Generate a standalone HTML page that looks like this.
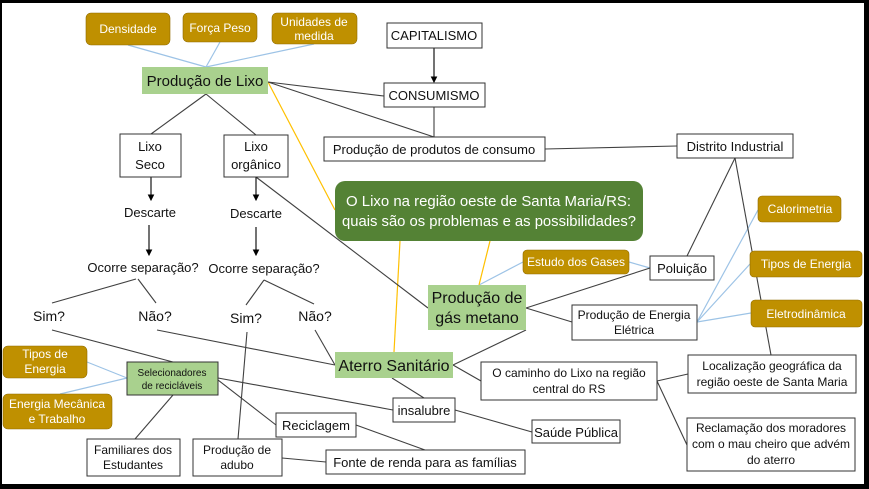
<!DOCTYPE html>
<html><head><meta charset="utf-8"><style>
body{margin:0;width:869px;height:489px;overflow:hidden;background:#000}
svg{display:block}
text{font-family:"Liberation Sans",sans-serif;}
</style></head><body>
<svg width="869" height="489" viewBox="0 0 869 489" xmlns="http://www.w3.org/2000/svg">
<rect x="2" y="3" width="862" height="481" fill="#fff"/>
<defs><marker id="a" markerWidth="6" markerHeight="6" refX="5" refY="3" orient="auto"><path d="M0,0L6,3L0,6z" fill="#000"/></marker></defs>
<g stroke="#9dc3e6" stroke-width="1.2" fill="none">
<line x1="128" y1="45" x2="206" y2="67"/><line x1="220" y1="42" x2="206" y2="67"/><line x1="314" y1="44" x2="206" y2="67"/>
<line x1="576" y1="260" x2="523" y2="262"/><line x1="629" y1="262" x2="650" y2="268"/><line x1="523" y1="262" x2="479" y2="285"/>
<line x1="697" y1="322" x2="758" y2="210"/><line x1="697" y1="322" x2="750" y2="264"/><line x1="697" y1="322" x2="751" y2="313"/>
<line x1="87" y1="362" x2="127" y2="378"/><line x1="60" y1="394" x2="127" y2="378"/>
</g>
<g stroke="#ffc000" stroke-width="1.2" fill="none">
<line x1="268" y1="82" x2="335" y2="210"/><line x1="400" y1="241" x2="394" y2="352"/><line x1="490" y1="241" x2="479" y2="285"/>
</g>
<g stroke="#404040" stroke-width="1.1" fill="none">
<line x1="268" y1="82" x2="384" y2="96"/><line x1="268" y1="82" x2="434" y2="137"/>
<line x1="434" y1="107" x2="434" y2="137"/>
<line x1="545" y1="149" x2="677" y2="146"/>
<line x1="206" y1="94" x2="151" y2="134"/><line x1="206" y1="94" x2="256" y2="135"/>
<line x1="256" y1="177" x2="428" y2="308"/>
<line x1="136" y1="279" x2="52" y2="303"/><line x1="138" y1="279" x2="156" y2="303"/>
<line x1="264" y1="280" x2="246" y2="305"/><line x1="264" y1="280" x2="314" y2="304"/>
<line x1="52" y1="330" x2="173" y2="362"/><line x1="157" y1="330" x2="335" y2="365"/><line x1="315" y1="330" x2="335" y2="365"/>
<line x1="247" y1="332" x2="238" y2="439"/>
<line x1="453" y1="365" x2="526" y2="330"/>
<line x1="526" y1="308" x2="650" y2="268"/><line x1="526" y1="308" x2="572" y2="322"/>
<line x1="735" y1="158" x2="687" y2="256"/><line x1="735" y1="158" x2="771" y2="355"/>
<line x1="453" y1="365" x2="481" y2="381"/>
<line x1="657" y1="381" x2="688" y2="374"/><line x1="657" y1="381" x2="687" y2="445"/>
<line x1="392" y1="378" x2="424" y2="398"/>
<line x1="218" y1="378" x2="393" y2="410"/><line x1="218" y1="380" x2="276" y2="425"/>
<line x1="455" y1="410" x2="532" y2="432"/>
<line x1="356" y1="425" x2="425" y2="450"/>
<line x1="282" y1="458" x2="326" y2="462"/>
<line x1="173" y1="395" x2="135" y2="439"/>
</g>
<g stroke="#000" stroke-width="1.1"><line x1="434" y1="48" x2="434" y2="82" marker-end="url(#a)"/>
<line x1="151" y1="177" x2="151" y2="200" marker-end="url(#a)"/><line x1="256" y1="177" x2="256" y2="200" marker-end="url(#a)"/>
<line x1="149" y1="225" x2="149" y2="255" marker-end="url(#a)"/><line x1="256" y1="227" x2="256" y2="255" marker-end="url(#a)"/></g>
<g fill="#bf9000" stroke="#8f6b00" stroke-width="0.6">
<rect x="86" y="13" width="84" height="32" rx="5"/><rect x="183" y="13" width="74" height="29" rx="5"/><rect x="272" y="13" width="85" height="31" rx="5"/>
<rect x="523" y="250" width="106" height="24" rx="4"/><rect x="758" y="196" width="83" height="26" rx="4"/><rect x="750" y="251" width="112" height="26" rx="4"/><rect x="751" y="300" width="111" height="27" rx="4"/>
<rect x="3" y="346" width="84" height="32" rx="5"/><rect x="3" y="394" width="109" height="35" rx="5"/>
</g>
<g fill="#a9d18e"><rect x="142" y="67" width="126" height="27"/><rect x="428" y="285" width="98" height="45"/><rect x="335" y="352" width="118" height="26"/></g>
<rect x="127" y="362" width="91" height="33" fill="#a9d18e" stroke="#333"/>
<rect x="335" y="181" width="308" height="60" rx="10" fill="#548235"/>
<g fill="#fff" stroke="#333" stroke-width="1">
<rect x="387" y="23" width="95" height="25"/><rect x="384" y="83" width="101" height="24"/><rect x="324" y="137" width="221" height="24"/><rect x="677" y="134" width="116" height="24"/>
<rect x="120" y="134" width="61" height="43"/><rect x="224" y="135" width="64" height="42"/>
<rect x="650" y="256" width="64" height="24"/><rect x="572" y="305" width="125" height="35"/>
<rect x="688" y="355" width="168" height="38"/><rect x="481" y="362" width="176" height="38"/><rect x="687" y="418" width="168" height="53"/>
<rect x="532" y="420" width="88" height="23"/><rect x="393" y="398" width="62" height="24"/><rect x="276" y="413" width="80" height="24"/>
<rect x="326" y="450" width="199" height="24"/><rect x="87" y="439" width="93" height="37"/><rect x="193" y="439" width="89" height="37"/>
</g>
<g fill="#fff" font-size="12" text-anchor="middle">
<text x="128" y="33">Densidade</text><text x="220" y="32">Força Peso</text><text x="314" y="26">Unidades de</text><text x="314" y="40">medida</text>
<text x="576" y="266">Estudo dos Gases</text><text x="800" y="213">Calorimetria</text><text x="806" y="268">Tipos de Energia</text><text x="806" y="318">Eletrodinâmica</text>
<text x="45" y="358">Tipos de</text><text x="45" y="373">Energia</text><text x="57" y="408">Energia Mecânica</text><text x="57" y="423">e Trabalho</text>
</g>
<g fill="#fff" font-size="15">
<text x="346" y="206" textLength="285" lengthAdjust="spacingAndGlyphs">O Lixo na região oeste de Santa Maria/RS:</text>
<text x="342" y="226" textLength="294" lengthAdjust="spacingAndGlyphs">quais são os problemas e as possibilidades?</text>
</g>
<g fill="#111" font-size="13" text-anchor="middle">
<text x="205" y="86" font-size="15">Produção de Lixo</text>
<text x="477" y="303" font-size="16">Produção de</text><text x="477" y="323" font-size="16">gás metano</text>
<text x="394" y="371" font-size="16">Aterro Sanitário</text>
<text x="172" y="376" font-size="10">Selecionadores</text><text x="172" y="389" font-size="10">de recicláveis</text>
<text x="434" y="40">CAPITALISMO</text><text x="434" y="100">CONSUMISMO</text><text x="434" y="154">Produção de produtos de consumo</text><text x="735" y="151">Distrito Industrial</text>
<text x="150" y="151">Lixo</text><text x="150" y="169">Seco</text><text x="256" y="151">Lixo</text><text x="256" y="169">orgânico</text>
<text x="150" y="217">Descarte</text><text x="256" y="218">Descarte</text>
<text x="143" y="272">Ocorre separação?</text><text x="264" y="273">Ocorre separação?</text>
<text x="49" y="321" font-size="14">Sim?</text><text x="155" y="321" font-size="14">Não?</text><text x="246" y="323" font-size="14">Sim?</text><text x="315" y="321" font-size="14">Não?</text>
<text x="682" y="273">Poluição</text>
<text x="634" y="319" font-size="12">Produção de Energia</text><text x="634" y="334" font-size="12">Elétrica</text>
<text x="772" y="370" font-size="12">Localização geográfica da</text><text x="772" y="386" font-size="12">região oeste de Santa Maria</text>
<text x="569" y="377" font-size="12">O caminho do Lixo na região</text><text x="569" y="393" font-size="12">central do RS</text>
<text x="771" y="432" font-size="12">Reclamação dos moradores</text><text x="771" y="448" font-size="12">com o mau cheiro que advém</text><text x="771" y="464" font-size="12">do aterro</text>
<text x="576" y="437">Saúde Pública</text><text x="424" y="415">insalubre</text><text x="316" y="430">Reciclagem</text>
<text x="425" y="467">Fonte de renda para as famílias</text>
<text x="133" y="454" font-size="12">Familiares dos</text><text x="133" y="469" font-size="12">Estudantes</text>
<text x="237" y="454" font-size="12">Produção de</text><text x="237" y="469" font-size="12">adubo</text>
</g>
</svg>
</body></html>
